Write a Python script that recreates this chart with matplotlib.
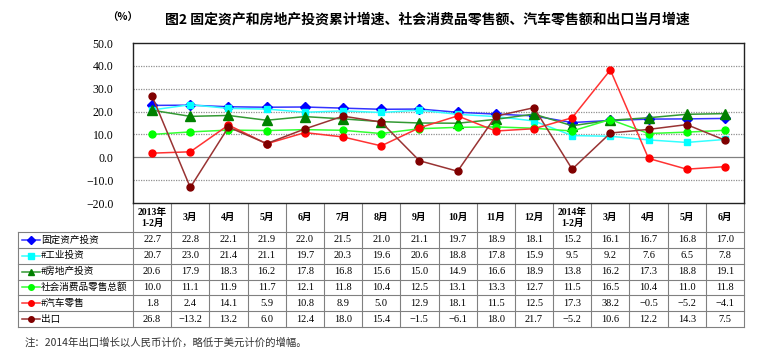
import numpy as np
import matplotlib
matplotlib.use("Agg")
import matplotlib.pyplot as plt

plt.rcParams['font.family'] = ['Liberation Serif', 'Noto Sans CJK SC', 'DejaVu Sans']

# ============================================================
# DADOS
# ============================================================
meses = ["2013年\n1-2月", "3月", "4月", "5月", "6月", "7月", "8月", "9月", "10月",
         "11月", "12月", "2014年\n1-2月", "3月", "4月", "5月", "6月"]

fixo       = [22.7, 22.8, 22.1, 21.9, 22.0, 21.5, 21.0, 21.1, 19.7, 18.9, 18.1, 15.2, 16.1, 16.7, 16.8, 17.0]
industria  = [20.7, 23.0, 21.4, 21.1, 19.7, 20.3, 19.6, 20.6, 18.8, 17.8, 15.9, 9.5, 9.2, 7.6, 6.5, 7.8]
imobiliario = [20.6, 17.9, 18.3, 16.2, 17.8, 16.8, 15.6, 15.0, 14.9, 16.6, 18.9, 13.8, 16.2, 17.3, 18.8, 19.1]
varejo     = [10.0, 11.1, 11.9, 11.7, 12.1, 11.8, 10.4, 12.5, 13.1, 13.3, 12.7, 11.5, 16.5, 10.4, 11.0, 11.8]
automoveis = [1.8, 2.4, 14.1, 5.9, 10.8, 8.9, 5.0, 12.9, 18.1, 11.5, 12.5, 17.3, 38.2, -0.5, -5.2, -4.1]
exportacao = [26.8, -13.2, 13.2, 6.0, 12.4, 18.0, 15.4, -1.5, -6.1, 18.0, 21.7, -5.2, 10.6, 12.2, 14.3, 7.5]

nomes = ["固定资产投资", "#工业投资", "#房地产投资", "社会消费品零售总额", "#汽车零售", "出口"]
series = [fixo, industria, imobiliario, varejo, automoveis, exportacao]
cores = ["#0000FF", "#00FFFF", "#008000", "#00FF00", "#FF0000", "#800000"]
linhas = ["#3333FF", "#33FFFF", "#339933", "#33FF33", "#FF3333", "#993333"]
marcadores = ["D", "s", "^", "o", "o", "o"]
tamanhos = [5, 5, 7, 5, 5, 5]

yticks = [50, 40, 30, 20, 10, 0, -10, -20]

# ============================================================
# LAYOUT (pixels)
# ============================================================
W, H = 758, 358
x0, x1 = 133, 744
y_top, y_bot = 43, 203
xl = 18
y_head = 232
row_h = (327 - y_head) / 6.0
n = len(meses)
col_w = (x1 - x0) / n

fig = plt.figure(figsize=(W / 100, H / 100), dpi=100)
ov = fig.add_axes([0, 0, 1, 1])
ov.set_xlim(0, W); ov.set_ylim(H, 0); ov.axis("off")

ax = fig.add_axes([x0 / W, (H - y_bot) / H, (x1 - x0) / W, (y_bot - y_top) / H])
ax.set_xlim(0, n)
ax.set_ylim(-20, 50)
ax.set_xticks([])
ax.set_yticks(yticks)
ax.set_yticklabels([f"{v:.1f}".replace("-", "−") for v in yticks], fontsize=8.5)
ax.tick_params(axis="y", length=0, pad=14)
for v in yticks:
    if v == 0:
        ax.axhline(v, color="#808080", lw=0.9, zorder=0)
    elif v not in (50, -20):
        ax.axhline(v, color="#909090", lw=0.9, ls=(0, (1, 1)), zorder=0)
for sp in ax.spines.values():
    sp.set_color("#222222"); sp.set_linewidth(1.0)

xs = np.arange(n) + 0.5
for dados, c, lc, m, ms in zip(series, cores, linhas, marcadores, tamanhos):
    ax.plot(xs, dados, color=lc, lw=1.1, marker=m, markersize=ms,
            markerfacecolor=c, markeredgecolor=c, clip_on=False)

# titulo
fig.text(0.5 * (167 + 688) / W, 1 - 20 / H,
         "图2 固定资产和房地产投资累计增速、社会消费品零售额、汽车零售额和出口当月增速",
         ha="center", va="center", fontsize=10, fontweight="bold",
         family=["Noto Sans CJK SC"])
fig.text(123 / W, 1 - 18 / H, "（%）", ha="center", va="center", fontsize=7.5,
         family=["Noto Sans CJK SC"], fontweight="bold")

# ============================================================
# TABELA
# ============================================================
gc = "#808080"
y_end = y_head + 6 * row_h
for i in range(n + 1):
    xx = x0 + i * col_w
    ov.plot([xx, xx], [y_bot, y_end], color=gc, lw=0.8)
ov.plot([xl, xl], [y_head, y_end], color=gc, lw=0.8)
for j in range(7):
    yy = y_head + j * row_h
    ov.plot([xl, x1], [yy, yy], color=gc, lw=0.8)

for i, mlab in enumerate(meses):
    ov.text(x0 + (i + 0.5) * col_w, (y_bot + y_head) / 2, mlab, ha="center",
            va="center", fontsize=7, linespacing=1.3,
            family=["Liberation Serif", "Noto Sans CJK SC"], fontweight="bold")

for j, (nome, dados, c, lc, m) in enumerate(zip(nomes, series, cores, linhas, marcadores)):
    yc = y_head + (j + 0.5) * row_h
    ov.plot([22, 40], [yc, yc], color=lc, lw=1.1)
    ov.plot([31], [yc], marker=m, color=c, markersize=4)
    ov.text(41, yc, nome, ha="left", va="center", fontsize=6.9,
            family=["Noto Sans CJK SC"])
    for i, v in enumerate(dados):
        ov.text(x0 + (i + 0.5) * col_w, yc, f"{v:.1f}".replace("-", "−"),
                ha="center", va="center", fontsize=7.5)

fig.text(25 / W, 1 - 343 / H, "注：2014年出口增长以人民币计价，略低于美元计价的增幅。",
         ha="left", va="center", fontsize=7.5, color="#333333",
         family=["Noto Sans CJK SC"])

fig.savefig("out.png", dpi=100)
